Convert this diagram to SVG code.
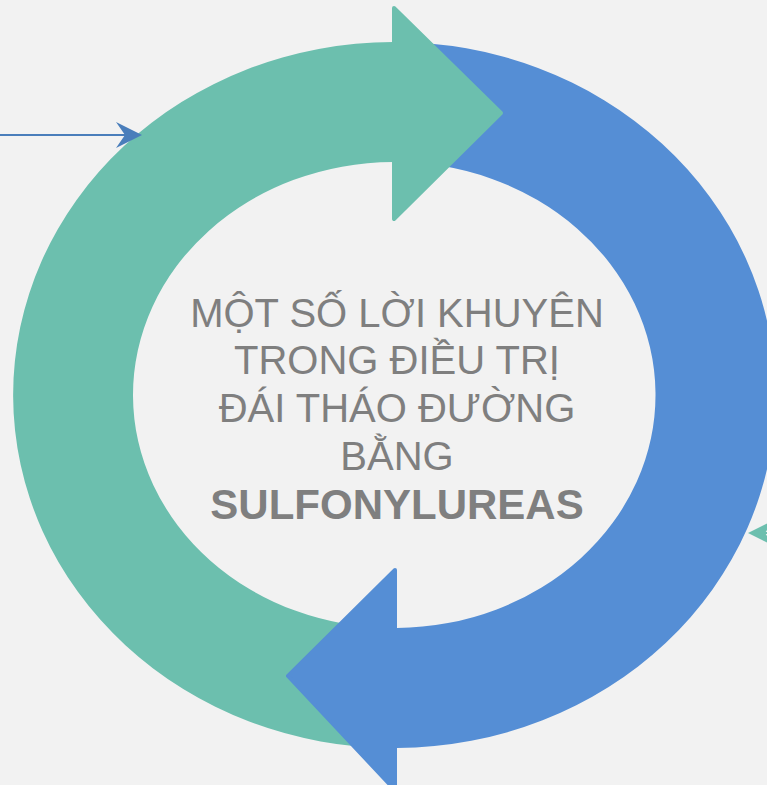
<svg xmlns="http://www.w3.org/2000/svg" width="767" height="785" viewBox="0 0 767 785">
  <style>
    .teal { fill: #6cbfae; }
    .blue { fill: #558ed5; }
    .head-teal { fill: #6cbfae; stroke: #6cbfae; stroke-width: 4; stroke-linejoin: round; }
    .head-blue { fill: #558ed5; stroke: #558ed5; stroke-width: 4; stroke-linejoin: round; }
    .title { font-family: "Liberation Sans", Arial, sans-serif; font-size: 40px; fill: #7f7f7f; text-anchor: middle; }
    .bold { font-weight: bold; font-size: 42px; }
  </style>
  <rect width="767" height="785" fill="#f2f2f2"/>
  <g id="cycle-teal">
    <path class="teal" d="M 393 42 A 381 353 0 0 0 395 748 L 395 628 A 261 233 0 0 1 393 162 Z"/>
  </g>
  <g id="cycle-blue">
    <path class="blue" d="M 392 42 A 381 353 0 0 1 397 748 L 397 628 A 261 233 0 0 0 392 162 Z"/>
  </g>
  <g id="cycle-teal-head">
    <polygon class="head-teal" points="394,8 501,113 394,219"/>
  </g>
  <g id="cycle-blue-head">
    <polygon class="head-blue" points="395,570 288,676 395,790"/>
  </g>
  <g id="title">
    <text class="title" x="397" y="327">MỘT SỐ LỜI KHUYÊN</text>
    <text class="title" x="397" y="374">TRONG ĐIỀU TRỊ</text>
    <text class="title" x="397" y="422">ĐÁI THÁO ĐƯỜNG</text>
    <text class="title" x="397" y="470">BẰNG</text>
    <text class="title bold" x="397" y="519">SULFONYLUREAS</text>
  </g>
  <g id="connectors">
    <line x1="0" y1="135" x2="128" y2="135" stroke="#4a7ebb" stroke-width="2"/>
    <polygon fill="#4a7ebb" points="142,135 116,122 125,135 116,148"/>
    <line x1="765" y1="533" x2="800" y2="533" stroke="#6cbfae" stroke-width="2"/>
    <polygon fill="#6cbfae" points="748,533 774,520 765,533 774,546"/>
  </g>
</svg>
